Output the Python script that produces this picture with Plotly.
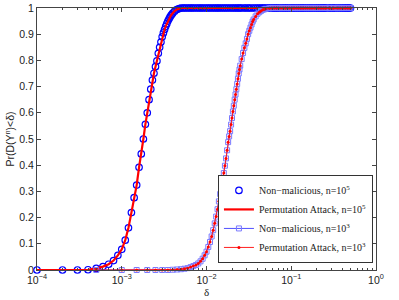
import plotly.graph_objects as go

# ---- data ----
# n = 1e5 : rising part
d5_rise = [0.0001, 0.0002, 0.0003, 0.0004, 0.0005, 0.0006, 0.0007, 0.0008, 0.0009, 0.0010,
           0.0011, 0.0012, 0.0013, 0.0014, 0.0015, 0.0016, 0.0017, 0.0018, 0.0019, 0.0020,
           0.0021, 0.0022, 0.0023, 0.0024, 0.0025, 0.0026, 0.0027, 0.0028, 0.0029, 0.0030,
           0.0031, 0.0032, 0.0033, 0.0034, 0.0035, 0.0036, 0.0037, 0.0038, 0.0039, 0.0040,
           0.0042, 0.0044, 0.0046, 0.0048]
p5_rise = [0.0, 0.0, 0.0, 0.001, 0.006, 0.013, 0.022, 0.036, 0.056, 0.079,
           0.114, 0.161, 0.219, 0.276, 0.324, 0.392, 0.443, 0.500, 0.556, 0.600,
           0.650, 0.690, 0.725, 0.751, 0.776, 0.798, 0.827, 0.850, 0.870, 0.890,
           0.905, 0.918, 0.930, 0.940, 0.950, 0.958, 0.965, 0.971, 0.976, 0.981,
           0.988, 0.993, 0.996, 0.998]

# n = 1e3 : rising part
d3_rise = [0.0005, 0.0010, 0.0015, 0.0020, 0.0025, 0.0030, 0.0035, 0.0040, 0.0045, 0.0050,
           0.0055, 0.0060, 0.0065, 0.0070, 0.0075, 0.0080, 0.0085, 0.0090, 0.0095, 0.0100,
           0.0105, 0.0110, 0.0115, 0.0120, 0.0125, 0.0130, 0.0135, 0.0140, 0.0145, 0.0150,
           0.0155, 0.0160, 0.0165, 0.0170, 0.0175, 0.0180, 0.0185, 0.0190, 0.0195, 0.0200,
           0.0205, 0.0210, 0.0215, 0.0220, 0.0225, 0.0230, 0.0235, 0.0240, 0.0245, 0.0250,
           0.0260, 0.0270, 0.0280, 0.0290, 0.0300, 0.0310, 0.0320, 0.0330, 0.0340, 0.0350,
           0.0360, 0.0380, 0.0400, 0.0420, 0.0440, 0.0460, 0.0480, 0.0500, 0.0550]
p3_rise = [0.0, 0.0, 0.0, 0.0, 0.0, 0.0, 0.0, 0.001, 0.002, 0.003,
           0.005, 0.007, 0.011, 0.015, 0.019, 0.025, 0.033, 0.043, 0.056, 0.070,
           0.088, 0.107, 0.128, 0.152, 0.178, 0.204, 0.232, 0.262, 0.290, 0.315,
           0.342, 0.370, 0.398, 0.426, 0.457, 0.488, 0.510, 0.530, 0.555, 0.580,
           0.605, 0.627, 0.650, 0.670, 0.690, 0.710, 0.730, 0.750, 0.765, 0.780,
           0.805, 0.828, 0.848, 0.865, 0.882, 0.900, 0.913, 0.925, 0.937, 0.948,
           0.956, 0.968, 0.978, 0.984, 0.989, 0.993, 0.995, 0.997, 0.999]

# plateau: Pr = 1 for these delta values
plateau_level = 1.0
d_plateau = [0.0050, 0.0053, 0.0055, 0.0058, 0.0061, 0.0064, 0.0067, 0.0070, 0.0074, 0.0078,
             0.0082, 0.0086, 0.0090, 0.0095, 0.0100, 0.0105, 0.0110, 0.0116, 0.0122, 0.0128,
             0.0134, 0.0140, 0.0147, 0.0155, 0.0163, 0.0171, 0.0180, 0.0190, 0.0200, 0.0210,
             0.0220, 0.0230, 0.0240, 0.0250, 0.0260, 0.0280, 0.0290, 0.0310, 0.0320, 0.0340,
             0.0360, 0.0380, 0.0400, 0.0420, 0.0440, 0.0460, 0.0480, 0.0500, 0.0530, 0.0550,
             0.0580, 0.0610, 0.0640, 0.0670, 0.0700, 0.0740, 0.0780, 0.0820, 0.0860, 0.0900,
             0.0950, 0.1000, 0.1050, 0.1100, 0.1160, 0.1220, 0.1280, 0.1340, 0.1400, 0.1470,
             0.1550, 0.1630, 0.1710, 0.1800, 0.1900, 0.2000, 0.2100, 0.2200, 0.2300, 0.2400,
             0.2500, 0.2600, 0.2800, 0.2900, 0.3100, 0.3200, 0.3400, 0.3600, 0.3800, 0.4000,
             0.4200, 0.4400, 0.4600, 0.4800, 0.5000]

x_tickvals = [1e-4, 1e-3, 1e-2, 1e-1, 1e0]
x_ticktext = ["10<sup>\u22124</sup>", "10<sup>\u22123</sup>", "10<sup>\u22122</sup>",
              "10<sup>\u22121</sup>", "10<sup>0</sup>"]
y_tickvals = [0, 0.1, 0.2, 0.3, 0.4, 0.5, 0.6, 0.7, 0.8, 0.9, 1]
y_ticktext = ["0", "0.1", "0.2", "0.3", "0.4", "0.5", "0.6", "0.7", "0.8", "0.9", "1"]

names = ["Non\u2212malicious, n=10<sup>5</sup>",
         "Permutation Attack, n=10<sup>5</sup>",
         "Non\u2212malicious, n=10<sup>3</sup>",
         "Permutation Attack, n=10<sup>3</sup>"]

# ---- build series ----
plat5 = [d for d in d_plateau if d > d5_rise[-1]]
plat3 = [d for d in d_plateau if d > d3_rise[-1]]
x5 = d5_rise + plat5
y5 = p5_rise + [plateau_level for _ in plat5]
x3 = d3_rise + plat3
y3 = p3_rise + [plateau_level for _ in plat3]

fig = go.Figure()
fig.add_trace(go.Scatter(x=x5, y=y5, mode="markers", name=names[0], cliponaxis=False,
                         marker=dict(symbol="circle-open", size=6.5, color="#0000ff",
                                     line=dict(width=1.2, color="#0000ff"))))
fig.add_trace(go.Scatter(x=x5, y=y5, mode="lines", name=names[1], cliponaxis=False,
                         line=dict(color="#ff0000", width=2.2)))
fig.add_trace(go.Scatter(x=x3, y=y3, mode="lines+markers", name=names[2], cliponaxis=False,
                         line=dict(color="#5050ff", width=1),
                         marker=dict(symbol="square-open", size=5, color="#7a7aff",
                                     line=dict(width=1, color="#7a7aff"))))
fig.add_trace(go.Scatter(x=x3, y=y3, mode="lines+markers", name=names[3], cliponaxis=False,
                         line=dict(color="#ff2020", width=1),
                         marker=dict(symbol="circle", size=3, color="#ff0000")))

axis_common = dict(showline=True, linecolor="#444444", linewidth=1, mirror="allticks",
                   ticks="inside", ticklen=4, tickcolor="#444444", showgrid=False,
                   zeroline=False, automargin=False)

fig.update_xaxes(type="log", range=[-4, 0], tickvals=x_tickvals, ticktext=x_ticktext,
                 tickfont=dict(family="Liberation Sans", size=10.5, color="#222"),
                 title=dict(text="δ", standoff=0,
                            font=dict(family="Liberation Serif", size=11, color="#222")),
                 minor=dict(ticks="inside", ticklen=2, tickcolor="#444444", dtick="D1"),
                 **axis_common)
fig.update_yaxes(range=[0, 1], tickvals=y_tickvals, ticktext=y_ticktext,
                 tickfont=dict(family="Liberation Sans", size=10.5, color="#222"),
                 title=dict(text="Pr(D(Y<sup>n</sup>)&lt;δ)", standoff=2,
                            font=dict(family="Liberation Sans", size=10.5, color="#222")),
                 **axis_common)

fig.update_layout(
    width=399, height=300,
    margin=dict(l=37, r=23, t=8, b=30),
    paper_bgcolor="white", plot_bgcolor="white",
    showlegend=True,
    legend=dict(x=0.991, y=0.027, xanchor="right", yanchor="bottom",
                bgcolor="white", bordercolor="#333", borderwidth=1,
                font=dict(family="Liberation Serif", size=10, color="#222"),
                tracegroupgap=0, itemwidth=30),
)

fig.write_html("out.html", config={"displayModeBar": False, "staticPlot": True},
               post_script="document.body.style.margin='0';document.body.style.overflow='hidden';")
